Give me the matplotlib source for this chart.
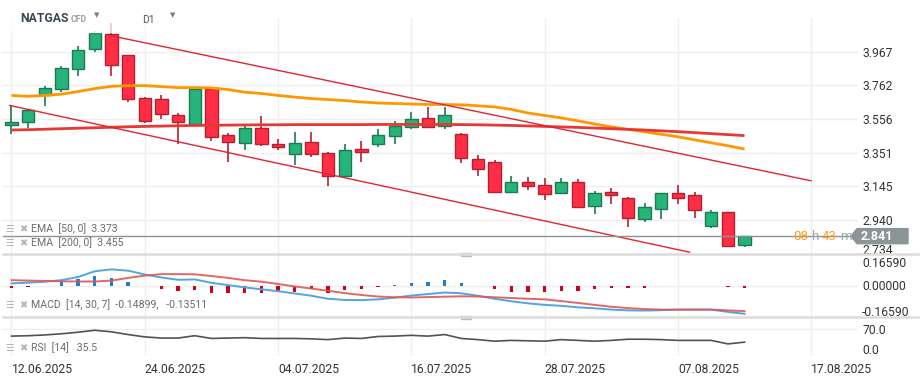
import numpy as np
import matplotlib.pyplot as plt
from matplotlib.patches import Rectangle, Polygon
from matplotlib.transforms import ScaledTranslation, blended_transform_factory

plt.rcParams['font.family'] = ['Roboto', 'DejaVu Sans']

# ---- data (daily candles, NATGAS) ----
date_labels = ["12.06.2025", "24.06.2025", "04.07.2025", "16.07.2025",
               "28.07.2025", "07.08.2025", "17.08.2025"]
date_pos = [0, 8, 16, 24, 32, 40, 48]

opens = [3.522, 3.540, 3.701, 3.740, 3.862, 3.983, 4.075, 3.947, 3.686, 3.680,
         3.582, 3.528, 3.738, 3.461, 3.412, 3.503, 3.406, 3.343, 3.418, 3.351,
         3.209, 3.371, 3.406, 3.455, 3.507, 3.564, 3.515, 3.467, 3.315, 3.291,
         3.112, 3.169, 3.151, 3.102, 3.169, 3.027, 3.108, 3.072, 2.948, 3.009,
         3.102, 3.090, 2.902, 2.987, 2.786]
highs = [3.639, 3.619, 3.760, 3.882, 4.003, 4.095, 4.145, 3.950, 3.690, 3.704,
         3.594, 3.742, 3.740, 3.473, 3.517, 3.572, 3.432, 3.477, 3.477, 3.355,
         3.402, 3.420, 3.497, 3.542, 3.602, 3.627, 3.627, 3.470, 3.335, 3.305,
         3.207, 3.201, 3.195, 3.195, 3.189, 3.116, 3.134, 3.078, 3.043, 3.104,
         3.153, 3.108, 3.000, 2.990, 2.843]
lows = [3.467, 3.503, 3.635, 3.720, 3.817, 3.963, 3.817, 3.661, 3.529, 3.556,
        3.406, 3.513, 3.422, 3.294, 3.367, 3.391, 3.367, 3.276, 3.325, 3.148,
        3.193, 3.294, 3.385, 3.404, 3.497, 3.507, 3.495, 3.288, 3.209, 3.106,
        3.110, 3.124, 3.063, 3.100, 3.015, 2.976, 3.039, 2.899, 2.930, 2.948,
        3.039, 2.954, 2.893, 2.778, 2.772]
closes = [3.540, 3.610, 3.746, 3.868, 3.977, 4.081, 3.886, 3.677, 3.546, 3.588,
          3.540, 3.740, 3.449, 3.418, 3.503, 3.406, 3.388, 3.412, 3.343, 3.206,
          3.364, 3.357, 3.457, 3.511, 3.558, 3.509, 3.582, 3.319, 3.254, 3.108,
          3.169, 3.145, 3.100, 3.169, 3.017, 3.102, 3.094, 2.950, 3.017, 3.102,
          3.076, 3.000, 2.987, 2.780, 2.841]

ema50 = [3.700, 3.695, 3.700, 3.708, 3.724, 3.742, 3.756, 3.760, 3.760, 3.754,
         3.748, 3.748, 3.746, 3.736, 3.720, 3.712, 3.700, 3.690, 3.681, 3.675,
         3.669, 3.660, 3.654, 3.651, 3.648, 3.645, 3.645, 3.643, 3.637, 3.630,
         3.615, 3.593, 3.578, 3.563, 3.545, 3.526, 3.508, 3.493, 3.478, 3.463,
         3.448, 3.429, 3.411, 3.393, 3.373]
ema200 = [3.489, 3.491, 3.494, 3.497, 3.500, 3.503, 3.506, 3.509, 3.511, 3.513,
          3.515, 3.517, 3.518, 3.519, 3.520, 3.521, 3.521, 3.522, 3.522, 3.522,
          3.522, 3.522, 3.523, 3.523, 3.523, 3.523, 3.523, 3.522, 3.521, 3.519,
          3.517, 3.514, 3.511, 3.508, 3.505, 3.501, 3.497, 3.493, 3.489, 3.484,
          3.479, 3.473, 3.467, 3.461, 3.455]

# trend channel drawn on the chart (candle index, price)
upper_x = [5.9, 48.0]
upper_y = [4.066, 3.179]
lower_x = [-0.1, 40.7]
lower_y = [3.639, 2.743]

macd = [0.011, 0.015, 0.020, 0.028, 0.045, 0.075, 0.085, 0.078, 0.058, 0.042,
        0.030, 0.032, 0.014, 0.002, -0.010, -0.020, -0.030, -0.042, -0.054, -0.070,
        -0.076, -0.077, -0.073, -0.064, -0.053, -0.045, -0.037, -0.041, -0.054, -0.070,
        -0.083, -0.094, -0.102, -0.107, -0.115, -0.120, -0.127, -0.131, -0.132, -0.130,
        -0.127, -0.127, -0.127, -0.139, -0.14899]
signal = [0.028, 0.026, 0.024, 0.022, 0.021, 0.021, 0.026, 0.040, 0.052, 0.060,
          0.060, 0.059, 0.050, 0.040, 0.028, 0.020, 0.008, -0.005, -0.016, -0.028,
          -0.040, -0.050, -0.058, -0.062, -0.063, -0.061, -0.059, -0.057, -0.058, -0.062,
          -0.066, -0.070, -0.073, -0.082, -0.092, -0.102, -0.112, -0.119, -0.124, -0.127,
          -0.127, -0.127, -0.127, -0.131, -0.13511]
hist = [-0.014, -0.009, 0.0, 0.016, 0.032, 0.048, 0.041, 0.021, -0.004, -0.020,
        -0.030, -0.025, -0.037, -0.037, -0.037, -0.037, -0.036, -0.036, -0.021, -0.039,
        -0.023, -0.021, -0.009, 0.004, 0.014, 0.018, 0.027, 0.012, -0.004, -0.021,
        -0.032, -0.032, -0.032, -0.027, -0.027, -0.021, -0.014, -0.014, -0.014, -0.004,
        0.0, 0.0, 0.0, -0.009, -0.014]
rsi = [51, 52, 54, 57, 61, 66, 62, 55, 49, 46,
       46, 52, 45, 46, 47, 45, 45, 45, 44, 42,
       46, 45, 50, 51, 53, 51, 55, 45, 42, 38,
       40, 39, 38, 42, 40, 38, 40, 43, 43, 42,
       40, 40, 40, 31, 35.5]

price_ticks = [2.734, 2.940, 3.145, 3.351, 3.556, 3.762, 3.967]
macd_ticks = [-0.1659, 0.0, 0.1659]
rsi_ticks = [0.0, 70.0]
last_price = closes[-1]
countdown = ["08", "h", "43", "m"]

# ---- style ----
GREEN, GREEN_EDGE = '#27b47a', '#1c7a52'
RED, RED_EDGE = '#ff2d46', '#b51f2e'
GRID = '#efefef'
TXT = '#333333'
LEG = '#6b6b6b'

W, H = 921, 380
fig = plt.figure(figsize=(W / 100, H / 100), dpi=100)


def fx(x):
    return x / W


def fy(y):
    return 1 - y / H


def shift(label, dy_px):
    # move a tick label up (positive) or down by some pixels
    label.set_transform(label.get_transform() + ScaledTranslation(0, dy_px / 100, fig.dpi_scale_trans))


left, right = fx(3), fx(858)
ax = fig.add_axes([left, fy(254), right - left, (254 - 18) / H])
ax_m = fig.add_axes([left, fy(317), right - left, (317 - 254) / H], sharex=ax)
ax_r = fig.add_axes([left, fy(356), right - left, (356 - 317) / H], sharex=ax)

idx = np.arange(len(opens))
o = np.array(opens)
c = np.array(closes)
up = c >= o

for a in (ax, ax_m, ax_r):
    for s in a.spines.values():
        s.set_visible(False)
    a.set_xticks(date_pos)
    a.grid(True, color=GRID, lw=1)
    a.set_axisbelow(True)
    a.yaxis.tick_right()
    a.tick_params(axis='y', length=0, pad=3, labelsize=8.7, labelcolor=TXT)
    a.tick_params(axis='x', length=0)

ax.set_xlim(-0.51, 50.81)

# candles
ax.vlines(idx, lows, highs, colors=np.where(up, GREEN_EDGE, RED_EDGE), lw=1.2, zorder=2)
ax.bar(idx, np.maximum(np.abs(c - o), 0.012), bottom=np.minimum(o, c), width=0.74,
       color=np.where(up, GREEN, RED), edgecolor=np.where(up, GREEN_EDGE, RED_EDGE),
       linewidth=1, zorder=3)

ax.plot(idx, ema50, color='#ff9800', lw=2.0, zorder=4, solid_capstyle='butt')
ax.plot(idx, ema200, color='#e53935', lw=2.0, zorder=4, solid_capstyle='butt')
ax.plot(upper_x, upper_y, color='#e0262f', lw=1, zorder=4)
ax.plot(lower_x, lower_y, color='#e0262f', lw=1, zorder=4)

ax.axhline(last_price, color='#8a9396', lw=1, zorder=5)
ax.set_ylim(2.732, 4.173)
ax.set_yticks(price_ticks)
ax.set_yticklabels([f"{v:.3f}" for v in price_ticks])
ax.tick_params(axis='x', labelbottom=False)
ax.get_yticklabels()[0].set_va('baseline')

# MACD pane
ax_m.bar(idx, hist, width=0.2, color=np.where(np.array(hist) >= 0, '#1b7fce', '#d0021b'), zorder=2)
ax_m.plot(idx, macd, color='#4fa6e0', lw=1.4, zorder=3)
ax_m.plot(idx, signal, color='#e25656', lw=1.4, zorder=3, alpha=0.9)
ax_m.set_ylim(-0.1659, 0.1659)
ax_m.set_yticks(macd_ticks)
ax_m.set_yticklabels([f"{v:.5f}" for v in macd_ticks])
ax_m.tick_params(axis='x', labelbottom=False)
ml = ax_m.get_yticklabels()
ml[0].set_va('baseline')
shift(ml[0], 1)
ml[2].set_va('top')
shift(ml[2], -3)

# RSI pane
ax_r.plot(idx, rsi, color='#4a545c', lw=1.2, zorder=3)
ax_r.set_ylim(0, 100)
ax_r.set_yticks(rsi_ticks)
ax_r.set_yticklabels([f"{v:.1f}" for v in rsi_ticks])
rl = ax_r.get_yticklabels()
rl[0].set_va('baseline')
shift(rl[0], 2)
ax_r.set_xticklabels(date_labels, ha='left')
ax_r.tick_params(axis='x', pad=5, labelsize=8.7, labelcolor=TXT)

# pane separators and drag handles
for yy in (254, 317):
    fig.add_artist(plt.Line2D([fx(3), fx(918)], [fy(yy), fy(yy)], color='#dcdcdc', lw=1.8))
    fig.add_artist(Rectangle((fx(461), fy(yy) - 1.5 / H), 10 / W, 3 / H, color='#bdbdbd'))

# last price tag and countdown
tr = blended_transform_factory(fig.transFigure, ax.transData)
hh = 0.046
tag = Polygon([[fx(851), last_price], [fx(857), last_price + hh], [fx(908), last_price + hh],
               [fx(908), last_price - hh], [fx(857), last_price - hh]],
              closed=True, transform=tr, color='#8b9497', clip_on=False, zorder=6)
fig.add_artist(tag)
fig.text(fx(861), last_price, f"{last_price:.3f}", transform=tr, color='white',
         fontsize=9, fontweight='bold', va='center', zorder=7)
cd_x = [793, 811, 822, 840]
cd_col = ['#ff9c1a', '#a0a6aa', '#ff9c1a', '#a0a6aa']
for s, xx, col in zip(countdown, cd_x, cd_col):
    fig.text(fx(xx), last_price, s, transform=tr, color=col, fontsize=9.6,
             va='center', zorder=7)

# header
fig.add_artist(Rectangle((0, fy(32)), fx(200), 32 / H, color='white', alpha=0.75, zorder=5))
fig.text(fx(20), fy(18), 'NATGAS', fontsize=8.8, fontweight='bold', color='#3d4752', va='center', zorder=6)
fig.text(fx(71), fy(19), 'CFD', fontsize=6.3, fontweight='bold', color='#9aa0a6', va='center', zorder=6)
fig.text(fx(97), fy(16), '▼', fontsize=5, color='#7a7a7a', ha='center', va='center', zorder=6)
fig.text(fx(142), fy(20), 'D1', fontsize=7.5, color='#555555', va='center', zorder=6)
fig.text(fx(173), fy(16), '▼', fontsize=5, color='#7a7a7a', ha='center', va='center', zorder=6)

# indicator legends
legends = [(229, f"EMA  [50, 0]  {ema50[-1]:.3f}"),
           (243, f"EMA  [200, 0]  {ema200[-1]:.3f}"),
           (305, f"MACD  [14, 30, 7]  {macd[-1]:.5f},   {signal[-1]:.5f}"),
           (348, f"RSI  [14]   {rsi[-1]:.1f}")]
for yy, label in legends:
    fig.text(fx(5), fy(yy), '☰', fontsize=7, color='#b5b5b5', va='center', zorder=6)
    fig.text(fx(19), fy(yy), '✖', fontsize=7, color='#b5b5b5', va='center', zorder=6)
    fig.text(fx(31), fy(yy), label, fontsize=7.6, color=LEG, va='center', zorder=6)

fig.savefig('out.png', dpi=100)
